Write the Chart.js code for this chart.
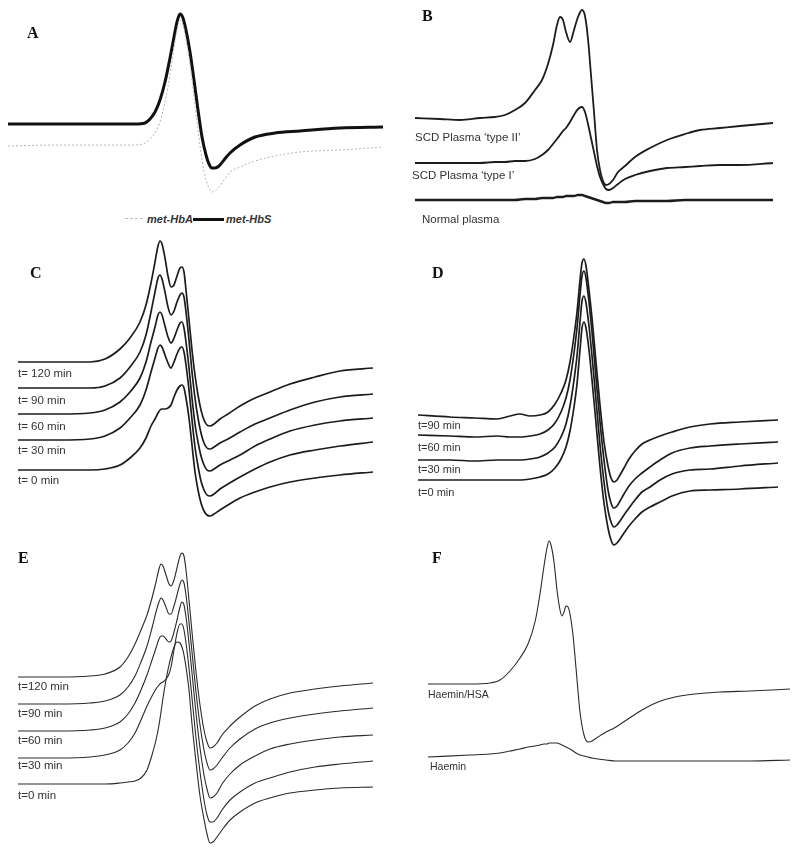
<!DOCTYPE html>
<html>
<head>
<meta charset="utf-8">
<script src="https://cdn.jsdelivr.net/npm/chart.js@4/dist/chart.umd.min.js"></script>
<style>
  body { margin: 0; background: #fff; }
  #wrap { position: relative; width: 800px; height: 855px; overflow: hidden; }
  canvas { position: absolute; }
  .lbl { position: absolute; font-family: "Liberation Sans", Arial, sans-serif; font-size: 11.5px; line-height: 14px; color: #333; white-space: nowrap; }
  .pan { position: absolute; font-family: "Liberation Serif", "Times New Roman", serif; font-weight: bold; font-size: 16px; line-height: 16px; color: #111; }
  .leg { position: absolute; font-family: "Liberation Sans", Arial, sans-serif; font-weight: bold; font-style: italic; font-size: 11px; line-height: 14px; color: #333; }
</style>
</head>
<body>
<div id="wrap">
  <canvas id="chartA" width="400" height="205" style="left:0;top:0"></canvas>
  <canvas id="chartB" width="400" height="215" style="left:400px;top:0"></canvas>
  <canvas id="chartC" width="400" height="295" style="left:0;top:235px"></canvas>
  <canvas id="chartD" width="400" height="305" style="left:400px;top:250px"></canvas>
  <canvas id="chartE" width="400" height="315" style="left:0;top:540px"></canvas>
  <canvas id="chartF" width="400" height="250" style="left:400px;top:530px"></canvas>

  <div class="pan" style="left:27px;top:25px">A</div>
  <div class="pan" style="left:422px;top:8px">B</div>
  <div class="pan" style="left:30px;top:265px">C</div>
  <div class="pan" style="left:432px;top:265px">D</div>
  <div class="pan" style="left:18px;top:550px">E</div>
  <div class="pan" style="left:432px;top:550px">F</div>

  <!-- legend panel A -->
  <div style="position:absolute;left:125px;top:218px;width:18px;border-top:1px dashed #bbb"></div>
  <div class="leg" style="left:147px;top:212px">met-HbA</div>
  <div style="position:absolute;left:193px;top:218px;width:31px;height:3px;background:#111"></div>
  <div class="leg" style="left:226px;top:212px">met-HbS</div>

  <div class="lbl" style="left:415px;top:130px">SCD Plasma ‘type II’</div>
  <div class="lbl" style="left:412px;top:168px">SCD Plasma ‘type I’</div>
  <div class="lbl" style="left:422px;top:212px">Normal plasma</div>

  <div class="lbl" style="left:18px;top:366px">t= 120 min</div>
  <div class="lbl" style="left:18px;top:393px">t= 90 min</div>
  <div class="lbl" style="left:18px;top:419px">t= 60 min</div>
  <div class="lbl" style="left:18px;top:443px">t= 30 min</div>
  <div class="lbl" style="left:18px;top:473px">t= 0 min</div>

  <div class="lbl" style="left:418px;top:418px;font-size:11px">t=90 min</div>
  <div class="lbl" style="left:418px;top:440px;font-size:11px">t=60 min</div>
  <div class="lbl" style="left:418px;top:462px;font-size:11px">t=30 min</div>
  <div class="lbl" style="left:418px;top:485px;font-size:11px">t=0 min</div>

  <div class="lbl" style="left:18px;top:679px">t=120 min</div>
  <div class="lbl" style="left:18px;top:706px">t=90 min</div>
  <div class="lbl" style="left:18px;top:733px">t=60 min</div>
  <div class="lbl" style="left:18px;top:758px">t=30 min</div>
  <div class="lbl" style="left:18px;top:788px">t=0 min</div>

  <div class="lbl" style="left:428px;top:687px;font-size:10.5px">Haemin/HSA</div>
  <div class="lbl" style="left:430px;top:759px;font-size:10.5px">Haemin</div>
</div>

<script>
// field in arbitrary units, signal relative to each trace's own baseline,
// offsets = vertical stacking of the traces

// Panel A: met-HbA / met-HbS
const fieldA = [8, 60, 110, 135, 145, 150, 155, 160, 165, 170, 174, 177, 180, 183, 186, 190, 194, 198, 202, 206, 209, 212, 215, 219, 224, 230, 240, 255, 275, 300, 340, 383];
const hbaA = [-1, 0, 0, 0, 2, 6, 12, 23, 43, 70, 97, 115, 125, 120, 105, 80, 48, 15, -15, -35, -43, -47, -46, -42, -35, -27, -22, -16, -11, -7, -5, -2];
const hbsA = [0, 0, 0, 0, 1, 5, 12, 24, 42, 66, 87, 102, 110, 106, 94, 72, 44, 14, -13, -31, -40, -44, -44, -42, -36, -29, -21, -13, -9, -7, -4, -3];
const offsetsA = [0, 21];

// Panel B: plasma samples (type II, type I, normal)
const fieldB = [415, 440, 460, 480, 495, 505, 515, 525, 535, 542, 548, 553, 557, 560, 563, 566, 570, 574, 578, 582, 585, 588, 591, 594, 597, 600, 603, 606, 609, 613, 618, 625, 635, 650, 667, 685, 700, 720, 740, 773];
const typeIIB = [0, -1, -2, 0, 1, 3, 8, 15, 28, 38, 54, 73, 93, 101, 98, 86, 76, 88, 101, 108, 102, 79, 43, 6, -32, -52, -63, -67, -66, -62, -54, -48, -39, -30, -22, -16, -12, -10, -8, -5];
const typeIB = [0, 0, 0, 0, 1, 1, 2, 2, 4, 8, 13, 19, 24, 28, 32, 35, 41, 48, 54, 56, 51, 39, 25, 11, -3, -14, -21, -26, -27, -25, -21, -16, -12, -8, -5, -4, -3, -2, -2, 0];
const normalB = [0, 0, 0, 0, 0, 0, 0, 1, 1, 2, 2, 2, 3, 3, 3, 4, 4, 4, 5, 5, 4, 3, 2, 1, 0, -1, -2, -3, -3, -2, -2, -2, -1, -1, -1, 0, 0, 0, 0, 0];
const offsetsB = [82, 37, 0];

// Panel C: t = 120, 90, 60, 30, 0 min
const fieldC = [18, 60, 90, 105, 120, 130, 140, 146, 151, 155, 158, 160, 162, 165, 168, 171, 174, 177, 180, 182, 184, 186, 189, 192, 195, 198, 201, 204, 207, 210, 214, 220, 228, 240, 255, 270, 290, 315, 340, 373];
const c120 = [0, 0, 0, 3, 13, 24, 40, 57, 79, 100, 116, 121, 118, 104, 86, 75, 77, 86, 94, 95, 90, 72, 42, 12, -13, -33, -48, -58, -63, -64, -62, -57, -52, -44, -36, -30, -22, -15, -9, -6];
const c90 = [0, 0, 0, 2, 10, 21, 36, 53, 76, 96, 110, 113, 109, 96, 81, 73, 77, 86, 93, 95, 91, 76, 48, 16, -10, -30, -45, -55, -60, -61, -59, -55, -51, -44, -36, -30, -22, -14, -9, -6];
const c60 = [0, 0, 1, 4, 12, 22, 36, 52, 72, 87, 99, 102, 99, 88, 77, 71, 76, 84, 91, 92, 86, 72, 46, 16, -10, -28, -42, -51, -56, -57, -55, -51, -47, -41, -32, -25, -17, -11, -7, -4];
const c30 = [0, 0, 1, 4, 12, 22, 35, 50, 68, 82, 92, 95, 93, 85, 77, 72, 78, 86, 92, 93, 88, 75, 50, 20, -7, -26, -41, -50, -55, -56, -54, -49, -44, -37, -29, -22, -15, -10, -6, -2];
const c0 = [0, 0, 0, 1, 5, 12, 22, 32, 44, 51, 57, 60, 61, 61, 62, 65, 73, 80, 84, 85, 82, 72, 52, 25, -2, -20, -33, -41, -45, -46, -44, -40, -35, -28, -22, -17, -12, -8, -5, -2];
const offsetsC = [108, 82, 56, 30, 0];

// Panel D: t = 90, 60, 30, 0 min
const fieldD = [418, 450, 475, 497, 510, 520, 530, 540, 548, 555, 561, 566, 570, 574, 577, 580, 582, 584, 586, 589, 592, 596, 600, 604, 608, 611, 614, 617, 620, 624, 629, 635, 642, 650, 660, 672, 690, 710, 740, 778];
const d90 = [0, -2, -3, -4, -1, 1, -1, 0, 3, 11, 22, 35, 53, 79, 103, 135, 152, 156, 149, 125, 97, 53, 10, -27, -51, -63, -67, -65, -60, -53, -44, -36, -29, -25, -21, -17, -12, -9, -7, -5];
const d60 = [0, -1, -2, -1, -2, -2, -1, 1, 5, 12, 23, 37, 55, 82, 107, 140, 159, 164, 157, 133, 103, 57, 13, -25, -55, -68, -73, -71, -66, -59, -51, -44, -38, -32, -25, -18, -13, -11, -9, -7];
const d30 = [0, 0, -1, 0, 0, 0, 1, 3, 7, 13, 23, 36, 54, 80, 104, 138, 159, 164, 157, 134, 104, 60, 15, -22, -50, -62, -67, -65, -61, -55, -48, -40, -32, -27, -20, -14, -10, -9, -6, -3];
const d0 = [0, 0, 0, 0, 0, 0, 1, 3, 6, 12, 21, 33, 49, 73, 96, 130, 152, 158, 152, 130, 100, 57, 13, -23, -48, -60, -65, -63, -59, -53, -46, -39, -32, -27, -22, -16, -11, -10, -9, -7];
const offsetsD = [65, 45, 20, 0];

// Panel E: t = 120, 90, 60, 30, 0 min
const fieldE = [18, 60, 90, 105, 120, 128, 135, 141, 147, 152, 156, 159, 161, 163, 166, 169, 171, 174, 177, 180, 182, 184, 186, 189, 192, 196, 200, 204, 207, 210, 213, 217, 222, 230, 240, 255, 270, 290, 315, 340, 373];
const e120 = [0, 0, 1, 3, 10, 20, 33, 47, 62, 79, 95, 108, 113, 111, 102, 93, 91, 97, 109, 121, 124, 121, 107, 77, 45, 5, -28, -53, -65, -71, -70, -66, -58, -49, -40, -29, -22, -16, -12, -9, -6];
const e90 = [0, 0, 1, 3, 9, 17, 28, 42, 58, 76, 92, 102, 106, 104, 97, 90, 90, 98, 109, 120, 124, 121, 109, 82, 52, 12, -21, -46, -59, -66, -65, -61, -54, -44, -35, -25, -19, -14, -10, -7, -4];
const e60 = [0, 0, 1, 3, 9, 17, 28, 41, 56, 71, 83, 92, 95, 95, 92, 89, 90, 99, 111, 124, 129, 126, 114, 88, 58, 18, -17, -44, -58, -67, -66, -62, -53, -43, -34, -25, -18, -13, -9, -6, -4];
const e30 = [0, 0, 1, 3, 8, 15, 25, 38, 52, 62, 69, 73, 75, 76, 79, 84, 91, 108, 125, 134, 134, 128, 115, 90, 60, 20, -14, -42, -57, -64, -64, -60, -52, -42, -34, -25, -20, -14, -9, -6, -3];
const e0 = [0, 0, 0, 0, 1, 2, 3, 6, 14, 29, 44, 59, 72, 86, 104, 119, 127, 137, 142, 141, 137, 129, 117, 94, 60, 22, -12, -35, -50, -59, -58, -53, -46, -36, -28, -19, -14, -9, -6, -4, -3];
const offsetsE = [107, 80, 53, 26, 0];

// Panel F: Haemin/HSA and Haemin
const fieldF = [428, 470, 490, 500, 510, 520, 528, 535, 540, 544, 547, 549, 551, 554, 557, 560, 562, 564, 566, 568, 570, 573, 576, 580, 584, 588, 592, 598, 606, 616, 628, 642, 658, 675, 695, 720, 750, 790];
const hsaF = [0, 0, 1, 4, 13, 26, 40, 62, 90, 118, 136, 143, 139, 122, 94, 74, 68, 72, 78, 77, 70, 49, 16, -28, -51, -58, -57, -53, -48, -43, -35, -26, -18, -13, -10, -8, -7, -5];
const haeminF = [0, 2, 3, 4, 6, 8, 10, 11, 12, 13, 13, 14, 14, 14, 14, 13, 12, 11, 10, 9, 8, 6, 4, 2, 1, 0, -1, -2, -3, -4, -4, -4, -4, -4, -4, -4, -4, -3];
const offsetsF = [73, 0];

function trace(field, vals, offset, color, width, dash) {
    return {
        data: field.map((f, i) => ({ x: f, y: vals[i] + offset })),
        borderColor: color,
        borderWidth: width,
        borderDash: dash || [],
        pointRadius: 0,
        cubicInterpolationMode: "monotone",
        borderJoinStyle: "round",
        clip: false,
        fill: false
    };
}

function panel(id, datasets, xMin, xMax, yMin, yMax) {
    new Chart(document.getElementById(id), {
        type: "line",
        data: { datasets: datasets },
        options: {
            responsive: false,
            animation: false,
            devicePixelRatio: 1,
            layout: { padding: 0 },
            plugins: { legend: { display: false }, tooltip: { enabled: false } },
            scales: {
                x: { type: "linear", min: xMin, max: xMax, display: false },
                y: { type: "linear", min: yMin, max: yMax, display: false }
            }
        }
    });
}

const noisy = "#1c1c1c";
const smooth = "#2a2a2a";

panel("chartA", [
    trace(fieldA, hbaA, offsetsA[0], "#b5b5b5", 1, [2, 2]),
    trace(fieldA, hbsA, offsetsA[1], "#111", 3)
], 0, 400, -60, 145);

panel("chartB", [
    trace(fieldB, typeIIB, offsetsB[0], noisy, 1.8),
    trace(fieldB, typeIB, offsetsB[1], noisy, 1.8),
    trace(fieldB, normalB, offsetsB[2], noisy, 2.4)
], 400, 800, -15, 200);

panel("chartC", [c120, c90, c60, c30, c0].map((v, i) =>
    trace(fieldC, v, offsetsC[i], noisy, 1.7)
), 0, 400, -60, 235);

panel("chartD", [d90, d60, d30, d0].map((v, i) =>
    trace(fieldD, v, offsetsD[i], noisy, 1.7)
), 400, 800, -75, 230);

panel("chartE", [e120, e90, e60, e30, e0].map((v, i) =>
    trace(fieldE, v, offsetsE[i], smooth, 1.1)
), 0, 400, -71, 244);

panel("chartF", [
    trace(fieldF, hsaF, offsetsF[0], smooth, 1.1),
    trace(fieldF, haeminF, offsetsF[1], smooth, 1.1)
], 400, 800, -23, 227);
</script>
</body>
</html>
